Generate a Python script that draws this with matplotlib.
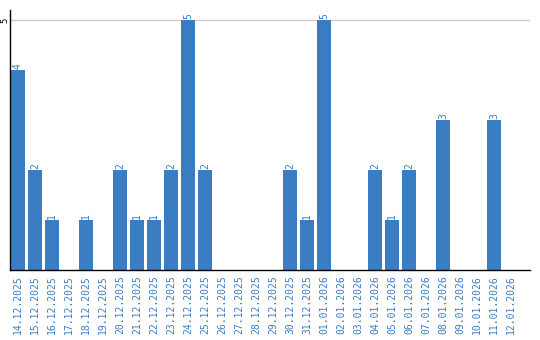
import matplotlib
matplotlib.use("Agg")
import matplotlib.pyplot as plt

dates = ["14.12.2025", "15.12.2025", "16.12.2025", "17.12.2025", "18.12.2025",
         "19.12.2025", "20.12.2025", "21.12.2025", "22.12.2025", "23.12.2025",
         "24.12.2025", "25.12.2025", "26.12.2025", "27.12.2025", "28.12.2025",
         "29.12.2025", "30.12.2025", "31.12.2025", "01.01.2026", "02.01.2026",
         "03.01.2026", "04.01.2026", "05.01.2026", "06.01.2026", "07.01.2026",
         "08.01.2026", "09.01.2026", "10.01.2026", "11.01.2026", "12.01.2026"]
counts = [4, 2, 1, 0, 1, 0, 2, 1, 1, 2,
          5, 2, 0, 0, 0, 0, 2, 1, 5, 0,
          0, 2, 1, 2, 0, 3, 0, 0, 3, 0]

blue = "#3b7dc3"
mono = "DejaVu Sans Mono"

fig = plt.figure(figsize=(5.4, 3.4), dpi=100)
ax = fig.add_axes([10 / 540, 70 / 340, 520 / 540, 260 / 340])

x = list(range(len(dates)))
bars = ax.bar(x, counts, width=0.82, color=blue, zorder=2)

# value labels only on non-empty bars
labels = [str(c) if c > 0 else "" for c in counts]
ax.bar_label(bars, labels=labels, rotation=90, padding=1, color=blue,
             fontsize=7, family=mono)

ax.set_xlim(-0.47, 30.12)
ax.set_ylim(0, 5.2)
ax.set_xticks(x)
ax.set_xticklabels(dates, rotation=90, color=blue, fontsize=7, family=mono)
ax.set_yticks([5])
ax.set_yticklabels(["5"], rotation=90, fontsize=6.5, family=mono, va="center")
ax.tick_params(axis="both", length=0)
ax.tick_params(axis="x", pad=4)
ax.tick_params(axis="y", pad=0.5)

ax.grid(axis="y", color="#cccccc", linewidth=1, zorder=0)
for side in ["top", "right"]:
    ax.spines[side].set_visible(False)
ax.spines["left"].set_linewidth(1)
ax.spines["bottom"].set_linewidth(1)

fig.savefig("out.png", dpi=100)
